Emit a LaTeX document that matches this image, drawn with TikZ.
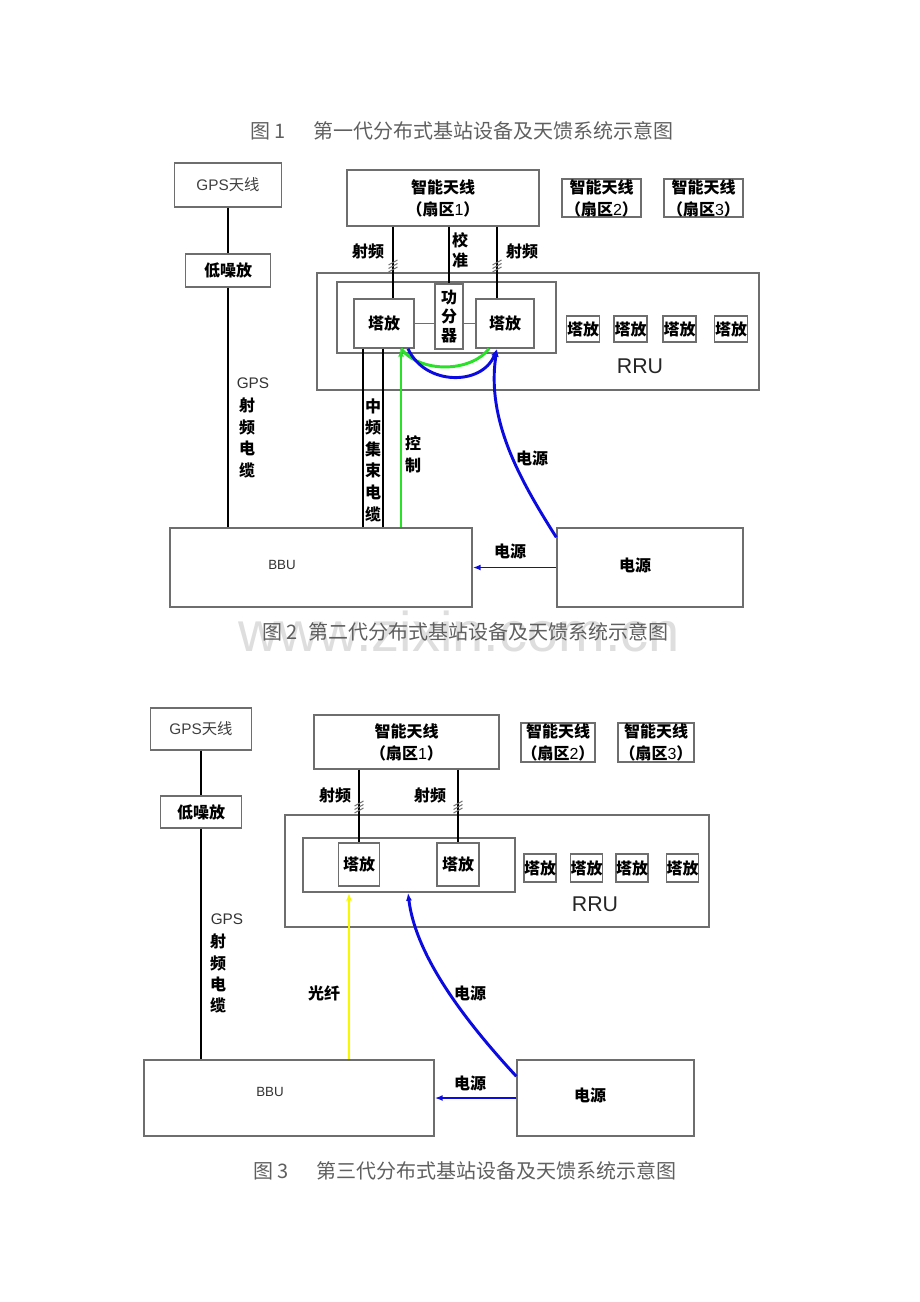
\documentclass[tikz,border=0pt]{standalone}
\usepackage{fontspec}
\setmainfont{Liberation Sans}
\newfontfamily\cjk{Noto Sans CJK SC}
\usetikzlibrary{arrows.meta,calc}
\newdimen\px \px=0.75pt
\definecolor{boxgray}{RGB}{110,110,110}
\definecolor{capgray}{RGB}{95,95,95}
\definecolor{wblue}{RGB}{10,10,225}
\definecolor{wgreen}{RGB}{40,225,40}
\definecolor{wyellow}{RGB}{248,248,0}
\definecolor{wmark}{RGB}{222,222,222}
\newcommand\cjb{\cjk\bfseries\fontsize{12}{16.5}\selectfont}
\newcommand\cjr{\cjk\fontsize{12}{16.5}\selectfont}
\newcommand\lat{\normalfont}
\begin{document}
\begin{tikzpicture}[x=0.75pt,y=-0.75pt,
  box/.style={draw=boxgray, line width=1.1pt, inner sep=0pt, fill=white},
  wh/.style 2 args={minimum width=#1\px, minimum height=#2\px},
  lab/.style={inner sep=0pt, font=\cjb, align=center},
  gpsl/.style={inner sep=0pt, font=\fontsize{11.5}{14}\selectfont, text=black!80},
  wire/.style={draw=black, line width=1.6pt},
  link/.style={draw=boxgray, line width=1.1pt},
  bline/.style={draw=wblue, line width=2.2pt},
  bthin/.style={draw=wblue, line width=1.4pt},
  gline/.style={draw=wgreen, line width=2.2pt},
  yline/.style={draw=wyellow, line width=1.6pt},
  arrtip/.style={-{Latex[length=6pt,width=4.5pt]}},
  captxt/.style={inner sep=0pt, text=capgray, font=\cjk\fontsize{15}{18}\selectfont},
  hatchc/.style={draw=black!55, line width=0.75pt},
  hatchmark/.pic={\foreach \d in {-3.5,0,3.5}{\draw[hatchc] (-4.5,\d+2.5) -- (4.5,\d-2.5);}}
]
\useasboundingbox (0,0) rectangle (920,1302);

% ================= Figure 1 caption =================
\node[captxt] (c1a) at (268,131) {图 1};
\node[captxt] (c1b) at (493,131) {第一代分布式基站设备及天馈系统示意图};

% ================= Figure 2 =================
\node[box, wh={107}{44}] (gps1) at (228,185) {\fontsize{11.5}{14}\selectfont\color{black!75}GPS{\cjk 天线}};
\node[box, wh={85}{33}] (lna1) at (228,270.5) {\cjb 低噪放};
\node[box, wh={192}{56}, align=center, font=\cjb] (ant1) at (443,198) {智能天线\\（扇区{\lat 1}）};
\node[box, wh={79}{38}, align=center, font=\cjb] (ant1b) at (601.5,198) {智能天线\\（扇区{\lat 2}）};
\node[box, wh={79}{38}, align=center, font=\cjb] (ant1c) at (703.5,198) {智能天线\\（扇区{\lat 3}）};
\node[box, wh={442}{117}] (rru1) at (538,331.5) {};
\node[box, wh={219}{71}] (inner1) at (446.5,317.5) {};
\node[box, wh={60}{49}, font=\cjb] (ta1L) at (384,323.5) {塔放};
\node[box, wh={28}{65}, align=center, font=\cjk\bfseries\fontsize{12}{14.3}\selectfont] (gf1) at (449,316.5) {功\\分\\器};
\node[box, wh={58}{49}, font=\cjb] (ta1R) at (505,323.5) {塔放};
\node[box, wh={33}{26}, font=\cjb] (s11) at (583,329) {塔放};
\node[box, wh={33}{26}, font=\cjb] (s12) at (630.5,329) {塔放};
\node[box, wh={33}{26}, font=\cjb] (s13) at (679.5,329) {塔放};
\node[box, wh={33}{26}, font=\cjb] (s14) at (731,329) {塔放};
\node[inner sep=0pt, font=\fontsize{16}{18}\selectfont, text=black!85] (rrut1) at (640,366) {RRU};
\node[box, wh={302}{79}] (bbu1) at (321,567.5) {};
\node[inner sep=0pt, font=\fontsize{10}{12}\selectfont, text=black!80] (bbut1) at (282,565) {BBU};
\node[box, wh={186}{79}] (pwr1) at (650,567.5) {};
\node[lab] (pwrt1) at (635,565) {电源};

% helper x positions
\coordinate (xL1) at (393,0);
\coordinate (xR1) at (497,0);
\coordinate (xm1) at (363,0);
\coordinate (xm2) at (383,0);
\coordinate (xg1) at (401,0);
\coordinate (xg2) at (489,0);
\coordinate (xb1) at (408,0);

% connectors
\draw[wire] (gps1.south) -- (lna1.north);
\draw[wire] (lna1.south) -- (lna1.south |- bbu1.north);
\draw[wire] (ant1.south -| xL1) -- (ta1L.north -| xL1);
\draw[wire] (ant1.south -| gf1.north) -- (gf1.north);
\draw[wire] (ant1.south -| xR1) -- (ta1R.north -| xR1);
\draw[link] (ta1L.east) -- (ta1L.east -| gf1.west);
\draw[link] (ta1L.east -| gf1.east) -- (ta1R.west);
\draw[wire, line width=1.3pt] (ta1L.south -| xm1) -- (bbu1.north -| xm1);
\draw[wire, line width=1.3pt] (ta1L.south -| xm2) -- (bbu1.north -| xm2);
\draw[gline, arrtip] (bbu1.north -| xg1) -- (ta1L.south -| xg1);
\draw[gline] (ta1L.south -| xg1) .. controls (420,373) and (470,373) .. (ta1R.south -| xg2);
\draw[bline, arrtip] (ta1L.south -| xb1) .. controls (425,386) and (482,386) .. (ta1R.south -| xR1);
\draw[bline, arrtip] ($(pwr1.north west)+(0,10)$) .. controls (520,480) and (486,420) .. (ta1R.south -| xR1);
\draw[bthin, arrtip] (pwr1.west) -- (bbu1.east);

\pic at (393,266) {hatchmark};
\pic at (497,266) {hatchmark};

% labels
\node[lab] (l11) at (368,251) {射频};
\node[lab, font=\cjk\bfseries\fontsize{12}{15}\selectfont] (l12) at (460,250) {校\\准};
\node[lab] (l13) at (522,251) {射频};
\node[lab, font=\cjk\bfseries\fontsize{12}{16.2}\selectfont] (l14) at (373,460) {中\\频\\集\\束\\电\\缆};
\node[lab, font=\cjk\bfseries\fontsize{12}{16.5}\selectfont] (l15) at (413,454) {控\\制};
\node[lab] (l16) at (532,458) {电源};
\node[lab] (l17) at (510,551) {电源};
\node[gpsl] (g10) at (253,383) {GPS};
\node[lab] (g11) at (247,405) {射};
\node[lab] (g12) at (247,427) {频};
\node[lab] (g13) at (247,448) {电};
\node[lab] (g14) at (247,470) {缆};

% ================= watermark + caption 2 =================
\node[inner sep=0pt, anchor=base, text=wmark, font=\fontsize{42}{42}\selectfont] (wm) at (459,651) {www.zixin.com.cn};
\node[captxt] (c2a) at (280,632) {图 2};
\node[captxt] (c2b) at (488,632) {第二代分布式基站设备及天馈系统示意图};

% ================= Figure 3 =================
\node[box, wh={101}{42}] (gps2) at (201,729) {\fontsize{11.5}{14}\selectfont\color{black!75}GPS{\cjk 天线}};
\node[box, wh={81}{32}] (lna2) at (201,812) {\cjb 低噪放};
\node[box, wh={185}{54}, align=center, font=\cjb] (ant2) at (406.5,742) {智能天线\\（扇区{\lat 1}）};
\node[box, wh={74}{39}, align=center, font=\cjb] (ant2b) at (558,742.5) {智能天线\\（扇区{\lat 2}）};
\node[box, wh={76}{39}, align=center, font=\cjb] (ant2c) at (656,742.5) {智能天线\\（扇区{\lat 3}）};
\node[box, wh={424}{112}] (rru2) at (497,871) {};
\node[box, wh={212}{54}] (inner2) at (409,865) {};
\node[box, wh={41}{43}, font=\cjb] (ta2L) at (359,864.5) {塔放};
\node[box, wh={42}{43}, font=\cjb] (ta2R) at (458,864.5) {塔放};
\node[box, wh={32}{28}, font=\cjb] (s21) at (540,868) {塔放};
\node[box, wh={32}{28}, font=\cjb] (s22) at (586.5,868) {塔放};
\node[box, wh={32}{28}, font=\cjb] (s23) at (632,868) {塔放};
\node[box, wh={32}{28}, font=\cjb] (s24) at (682.5,868) {塔放};
\node[inner sep=0pt, font=\fontsize{16}{18}\selectfont, text=black!85] (rrut2) at (595,904) {RRU};
\node[box, wh={290}{76}] (bbu2) at (289,1098) {};
\node[inner sep=0pt, font=\fontsize{10}{12}\selectfont, text=black!80] (bbut2) at (270,1092) {BBU};
\node[box, wh={177}{76}] (pwr2) at (605.5,1098) {};
\node[lab] (pwrt2) at (590,1095) {电源};

\coordinate (xy2) at (349,0);
\coordinate (xb2) at (408,0);

\draw[wire] (gps2.south) -- (lna2.north);
\draw[wire] (lna2.south) -- (lna2.south |- bbu2.north);
\draw[wire] (ant2.south -| ta2L.north) -- (ta2L.north);
\draw[wire] (ant2.south -| ta2R.north) -- (ta2R.north);
\draw[yline, arrtip] (bbu2.north -| xy2) -- (inner2.south -| xy2);
\draw[bline, arrtip] ($(pwr2.north west)+(0,17)$) .. controls (455,1010) and (415,950) .. (inner2.south -| xb2);
\draw[bthin, arrtip] (pwr2.west) -- (bbu2.east);

\pic at (359,807) {hatchmark};
\pic at (458,807) {hatchmark};

\node[lab] (l21) at (335,795) {射频};
\node[lab] (l22) at (430,795) {射频};
\node[lab] (l23) at (324,993) {光纤};
\node[lab] (l24) at (470,993) {电源};
\node[lab] (l25) at (470,1083) {电源};
\node[gpsl] (g20) at (227,919) {GPS};
\node[lab] (g21) at (218,941) {射};
\node[lab] (g22) at (218,963) {频};
\node[lab] (g23) at (218,984) {电};
\node[lab] (g24) at (218,1005) {缆};

% ================= caption 3 =================
\node[captxt] (c3a) at (271,1171) {图 3};
\node[captxt] (c3b) at (496,1171) {第三代分布式基站设备及天馈系统示意图};
\end{tikzpicture}
\end{document}
